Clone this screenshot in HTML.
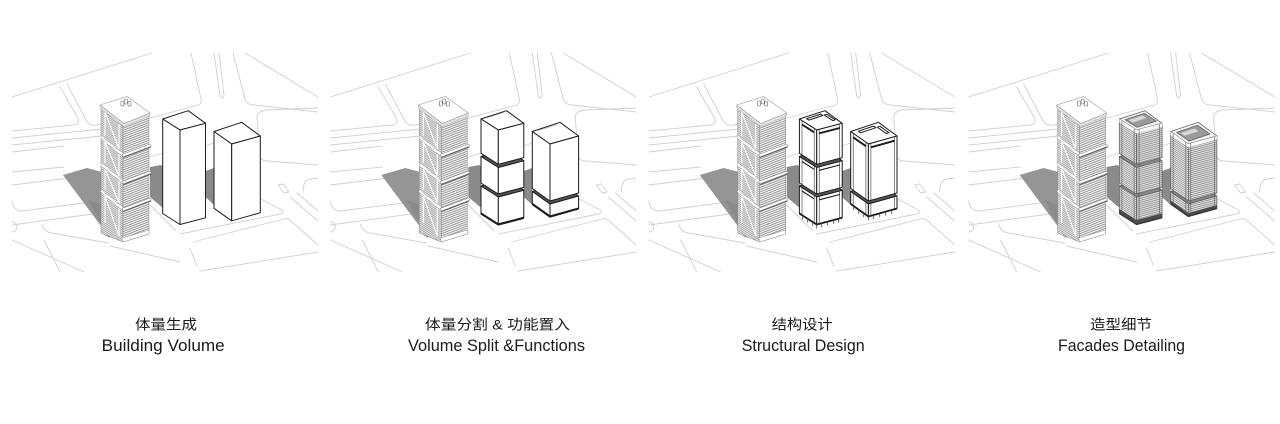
<!DOCTYPE html>
<html><head><meta charset="utf-8">
<style>
html,body{margin:0;padding:0;background:#fff;}
body{width:1280px;height:424px;overflow:hidden;}
svg{display:block;}
.rd{fill:none;stroke:#d0d0d0;stroke-width:0.9;stroke-linecap:round;stroke-linejoin:round;}
.bx polygon{stroke:#1c1c1c;stroke-width:1;stroke-linejoin:round;}
.en{font-family:"Liberation Sans",Arial,sans-serif;font-size:17px;fill:#1a1a1a;}
.cn{font-family:"Liberation Sans","Noto Sans CJK SC",sans-serif;font-size:14px;fill:#1a1a1a;}
</style></head>
<body>
<svg width="1280" height="424" viewBox="0 0 1280 424" xmlns="http://www.w3.org/2000/svg">
<defs>
  <clipPath id="pc" clipPathUnits="userSpaceOnUse"><rect x="12" y="50" width="306" height="222"/></clipPath>
  <pattern id="pL" patternUnits="userSpaceOnUse" width="6" height="2" patternTransform="skewY(32)">
    <rect width="6" height="2" fill="#f0f0f0"/><rect y="1.1" width="6" height="0.8" fill="#8c8c8c"/>
  </pattern>
  <pattern id="pR" patternUnits="userSpaceOnUse" width="6" height="2.2" patternTransform="skewY(-21)">
    <rect width="6" height="2.2" fill="#f4f4f4"/><rect y="1.2" width="6" height="0.8" fill="#7e7e7e"/>
  </pattern>
  <pattern id="fL" patternUnits="userSpaceOnUse" width="6" height="2" patternTransform="skewY(33)">
    <rect width="6" height="2" fill="#efefef"/><rect y="1.1" width="6" height="0.9" fill="#8f8f8f"/>
  </pattern>
  <pattern id="fR" patternUnits="userSpaceOnUse" width="6" height="2" patternTransform="skewY(-15)">
    <rect width="6" height="2" fill="#ebebeb"/><rect y="1.1" width="6" height="0.9" fill="#858585"/>
  </pattern>

  <g id="base">
    <g clip-path="url(#pc)">
      <g class="rd">
        <path d="M12,97 L152,53"/>
        <path d="M12,131 L74,125 Q80,124 78,118 L60,87"/>
        <path d="M67,84 L86,120 Q89,126 96,125 L102,124"/>
        <path d="M12,138 L102,129"/>
        <path d="M12,145 L102,136"/>
        <path d="M12,152 L64,146"/>
        <path d="M12,172 L64,167"/>
        <path d="M12,185 L70,178"/>
        <path d="M12,200 Q13,211 22,211 L100,201"/>
        <path d="M12,225 L100,213"/>
        <path d="M12,222 A5,5 0 0 1 12,232"/>
        <path d="M12,240 L84,272"/>
        <path d="M42,224 Q44,232 52,233 L108,243"/>
        <path d="M44,240 L60,272"/>
        <path d="M191,53 L201,99 Q202,105 195,106 L150,118"/>
        <path d="M214,53 L220,96 Q222,100 224,96 L219,53"/>
        <path d="M233,53 L245,99 Q247,105 254,105 L318,112"/>
        <path d="M245,53 L318,97"/>
        <path d="M318,108 L266,110 Q257,111 257,118 L260,156 Q261,161 268,161 L318,165"/>
        <path d="M278,185 L283,184 L289,192 L284,193 Z"/>
        <path d="M303,192 Q303,180 310,179 L318,178"/>
        <path d="M290,197 L318,221"/>
        <path d="M297,193 L318,211"/>
        <path d="M257,197 L282,210 Q285,213 280,214 L180,234"/>
        <path d="M150,205 L176,231"/>
        <path d="M193,242 L284,219 Q288,218 291,221 L318,245"/>
        <path d="M190,248 L197,266"/>
        <path d="M200,271 L318,252"/>
        <path d="M150,157 L163,153"/>
        <path d="M205,146 L214,143"/>
        <path d="M110,246 L180,262"/>
      </g>
      <!-- shadows -->
      <polygon points="63,175 87,168 102,172 102,233 110,238" fill="#959595"/>
      <polygon points="88,200 102,205 102,233 110,238" fill="#8a8a8a"/>
      <polygon points="150,167 161,165 163,167 163,208 150,197" fill="#8a8a8a"/>
      <polygon points="205.5,171 214,168 214,205 205.5,197" fill="#8a8a8a"/>
    </g>
    <!-- tower -->
    <g>
      <polygon points="101,107 123,125 123,242 101,233" fill="url(#pL)" stroke="#888" stroke-width="0.5"/>
      <polygon points="123,125 149,115 149,234 123,242" fill="url(#pR)" stroke="#888" stroke-width="0.5"/>
      <path d="M105,112 L105,136 M105,112 L119,149 L119,124 M105,142 L105,163 M105,142 L119,176 L119,154 M105,169 L105,190 M105,169 L119,203 L119,181 M105,196 L105,223 M105,196 L119,236 L119,208" fill="none" stroke="#fff" stroke-width="1.1"/>
      <g stroke-width="0.5">
        <line x1="101" y1="137" x2="123" y2="155" stroke="#fff" stroke-width="1.6"/>
        <line x1="101" y1="164" x2="123" y2="182" stroke="#fff" stroke-width="1.6"/>
        <line x1="101" y1="191" x2="123" y2="209" stroke="#fff" stroke-width="1.6"/>
        <polygon points="122,154.5 150,144 151.5,146 123,157" fill="#fff" stroke="#777"/>
        <line x1="123" y1="157.6" x2="151" y2="147" stroke="#555" stroke-width="0.8"/>
        <polygon points="122,181.5 150,171 151.5,173 123,184" fill="#fff" stroke="#777"/>
        <line x1="123" y1="184.6" x2="151" y2="174" stroke="#555" stroke-width="0.8"/>
        <polygon points="122,208.5 150,198 151.5,200 123,211" fill="#fff" stroke="#777"/>
        <line x1="123" y1="211.6" x2="151" y2="201" stroke="#555" stroke-width="0.8"/>
        <polygon points="122,238 149,230 149,234 123,242" fill="#fff" stroke="#888"/>
      </g>
      <polygon points="100,105 124,123.5 150,113 150,116 124,126.5 100,108" fill="#e2e2e2" stroke="#999" stroke-width="0.4"/>
      <polygon points="100,105 127,96.5 150,113 124,123.5" fill="#fff" stroke="#999" stroke-width="0.6"/>
      <g stroke="#666" stroke-width="0.6" fill="#fff">
        <rect x="121" y="101" width="3" height="5" rx="1"/>
        <rect x="124.5" y="99" width="3" height="5" rx="1"/>
        <rect x="128" y="101.5" width="3" height="4.5" rx="1"/>
      </g>
    </g>
  </g>
</defs>

<!-- Panel 1 -->
<use href="#base"/>
<g class="bx">
  <polygon points="162.7,119 188.2,110.7 205.5,123.3 180,130" fill="#fff"/>
  <polygon points="162.7,119 180,130 180,224.5 162.7,213.5" fill="#fff"/>
  <polygon points="180,130 205.5,123.3 205.5,217.8 180,224.5" fill="#fff"/>
  <polygon points="214,131.5 241.7,122.3 260.3,136 231.7,144" fill="#fff"/>
  <polygon points="214,131.5 231.7,144 231.7,220.8 214,208.3" fill="#fff"/>
  <polygon points="231.7,144 260.3,136 260.3,212.8 231.7,220.8" fill="#fff"/>
</g>

<!-- Panel 2 -->
<use href="#base" transform="translate(318.3,0)"/>
<g class="bx" transform="translate(318.3,0)">
  <polygon points="214,191.5 241.7,182.3 260.3,196 231.7,204" fill="#555"/>
  <polygon points="214,191.5 231.7,204 231.7,216.5 214,204" fill="#fff"/>
  <polygon points="231.7,204 260.3,196 260.3,208.5 231.7,216.5" fill="#fff"/>
  <polygon points="214,131.5 241.7,122.3 260.3,136 231.7,144" fill="#fff"/>
  <polygon points="214,131.5 231.7,144 231.7,201 214,188.5" fill="#fff"/>
  <polygon points="231.7,144 260.3,136 260.3,193 231.7,201" fill="#fff"/>
  <polygon points="162.7,186 188.2,177.7 205.5,190.3 180,197" fill="#555"/>
  <polygon points="162.7,186 180,197 180,224.5 162.7,213.5" fill="#fff"/>
  <polygon points="180,197 205.5,190.3 205.5,217.8 180,224.5" fill="#fff"/>
  <polygon points="162.7,156.5 188.2,148.2 205.5,160.8 180,167.5" fill="#555"/>
  <polygon points="162.7,156.5 180,167.5 180,194 162.7,183" fill="#fff"/>
  <polygon points="180,167.5 205.5,160.8 205.5,187.3 180,194" fill="#fff"/>
  <polygon points="162.7,119 188.2,110.7 205.5,123.3 180,130" fill="#fff"/>
  <polygon points="162.7,119 180,130 180,164.3 162.7,153.3" fill="#fff"/>
  <polygon points="180,130 205.5,123.3 205.5,157.6 180,164.3" fill="#fff"/>
  <g fill="none" stroke="#1c1c1c">
    <polyline points="162.7,213.5 180,224.5 205.5,217.8" stroke-width="2.2"/>
    <polyline points="214,204 231.7,216.5 260.3,208.5" stroke-width="2.2"/>
    <polyline points="168,118 186,112.3" stroke="#999" stroke-width="0.6"/>
    <polyline points="220,130.5 239,124.5" stroke="#999" stroke-width="0.6"/>
  </g>
</g>

<!-- Panel 3 -->
<use href="#base" transform="translate(636.7,0)"/>
<g class="bx" transform="translate(636.7,0)">
  <polygon points="214,191.5 241.7,182.3 260.3,196 231.7,204" fill="#555"/>
  <polygon points="214,191.5 231.7,204 231.7,216.5 214,204" fill="#fff"/>
  <polygon points="231.7,204 260.3,196 260.3,208.5 231.7,216.5" fill="#fff"/>
  <polygon points="214,131.5 241.7,122.3 260.3,136 231.7,144" fill="#fff"/>
  <polygon points="214,131.5 231.7,144 231.7,201 214,188.5" fill="#fff"/>
  <polygon points="231.7,144 260.3,136 260.3,193 231.7,201" fill="#fff"/>
  <polygon points="162.7,186 188.2,177.7 205.5,190.3 180,197" fill="#555"/>
  <polygon points="162.7,186 180,197 180,224.5 162.7,213.5" fill="#fff"/>
  <polygon points="180,197 205.5,190.3 205.5,217.8 180,224.5" fill="#fff"/>
  <polygon points="162.7,156.5 188.2,148.2 205.5,160.8 180,167.5" fill="#555"/>
  <polygon points="162.7,156.5 180,167.5 180,194 162.7,183" fill="#fff"/>
  <polygon points="180,167.5 205.5,160.8 205.5,187.3 180,194" fill="#fff"/>
  <polygon points="162.7,119 188.2,110.7 205.5,123.3 180,130" fill="#fff"/>
  <polygon points="162.7,119 180,130 180,164.3 162.7,153.3" fill="#fff"/>
  <polygon points="180,130 205.5,123.3 205.5,157.6 180,164.3" fill="#fff"/>
  <polygon points="169.9,118.7 183.9,114.1 186.1,115.5 172.1,120.1" fill="#fff" stroke-width="0.8"/>
  <polygon points="187.4,115.1 190,114.3 198.6,119.8 196.1,120.6" fill="#fff" stroke-width="0.8"/>
  <polygon points="221.7,131.2 236.9,126.1 239.2,127.7 223.9,132.8" fill="#fff" stroke-width="0.8"/>
  <polygon points="240.6,127.2 243.3,126.3 252.2,132.6 249.5,133.5" fill="#fff" stroke-width="0.8"/>
  <g fill="none" stroke="#333" stroke-width="0.6">
    <path d="M165.3,120.7V155 M177.5,128.4V162.7 M182.5,129.3V163.6 M203,124V158.3"/>
    <path d="M165.3,158.2V184.7 M177.5,165.9V192.4 M182.5,166.8V193.3 M203,161.5V188"/>
    <path d="M165.3,187.7V215.2 M177.5,195.4V222.9 M182.5,196.3V223.8 M203,191V218.5"/>
    <path d="M216.5,133.3V190.3 M229.2,142.2V199.2 M234.2,143.3V200.3 M257.8,136.7V193.7"/>
    <path d="M216.5,193.3V205.8 M229.2,202.2V214.7 M234.2,203.3V215.8 M257.8,196.7V209.2"/>
  </g>
  <g fill="none" stroke="#1c1c1c">
    <path d="M165.3,124.5 L177.5,132.3 M182.5,133.3 L203,128" stroke-width="1.9"/>
    <path d="M165.3,161.5 L177.5,169.3 M182.5,170.3 L203,165" stroke-width="1.1"/>
    <path d="M165.3,191 L177.5,198.8 M182.5,199.8 L203,194.5" stroke-width="1.1"/>
    <path d="M216.5,137.3 L229.2,146.2 M234.2,147.3 L257.8,140.7" stroke-width="1.9"/>
    <polyline points="162.7,213.5 180,224.5 205.5,217.8" stroke-width="1.8"/>
    <polyline points="214,204 231.7,216.5 260.3,208.5" stroke-width="1.8"/>
    <path d="M166,215.6v4 M171,218.8v4 M176,222v4 M180,224.5v4 M185,223.2v4 M191,221.6v4 M197,220v4 M202,218.7v4" stroke="#444" stroke-width="0.8"/>
    <path d="M217,206.1v4 M222,209.6v4 M227,213.1v4 M231.7,216.5v4 M237,215v4 M243,213.3v4 M249,211.7v4 M255,210v4" stroke="#444" stroke-width="0.8"/>
  </g>
</g>

<!-- Panel 4 -->
<use href="#base" transform="translate(956.6,0)"/>
<g transform="translate(956.6,0)">
  <g stroke="#5a5a5a" stroke-width="0.7" stroke-linejoin="round">
    <polygon points="214,191.5 241.7,182.3 260.3,196 231.7,204" fill="#888"/>
    <polygon points="214,191.5 231.7,204 231.7,216.5 214,204" fill="url(#fL)"/>
    <polygon points="231.7,204 260.3,196 260.3,208.5 231.7,216.5" fill="url(#fR)"/>
    <polygon points="214,131.5 241.7,122.3 260.3,136 231.7,144" fill="#f2f2f2"/>
    <polygon points="214,131.5 231.7,144 231.7,201 214,188.5" fill="url(#fL)"/>
    <polygon points="231.7,144 260.3,136 260.3,193 231.7,201" fill="url(#fR)"/>
    <polygon points="162.7,186 188.2,177.7 205.5,190.3 180,197" fill="#888"/>
    <polygon points="162.7,186 180,197 180,224.5 162.7,213.5" fill="url(#fL)"/>
    <polygon points="180,197 205.5,190.3 205.5,217.8 180,224.5" fill="url(#fR)"/>
    <polygon points="162.7,156.5 188.2,148.2 205.5,160.8 180,167.5" fill="#888"/>
    <polygon points="162.7,156.5 180,167.5 180,194 162.7,183" fill="url(#fL)"/>
    <polygon points="180,167.5 205.5,160.8 205.5,187.3 180,194" fill="url(#fR)"/>
    <polygon points="162.7,119 188.2,110.7 205.5,123.3 180,130" fill="#f2f2f2"/>
    <polygon points="162.7,119 180,130 180,164.3 162.7,153.3" fill="url(#fL)"/>
    <polygon points="180,130 205.5,123.3 205.5,157.6 180,164.3" fill="url(#fR)"/>
    <polygon points="168.4,119.65 187.7,113.35 199.8,121.05 180.5,127.35" fill="#9a9a9a"/>
    <polygon points="220,132.3 241.1,125.3 253.4,134 232.3,141" fill="#9a9a9a"/>
  </g>
  <g stroke="none">
    <polygon points="172,120 186,115.5 190,118 176,122.5" fill="#d8d8d8"/>
    <polygon points="224,133 238,128.5 242,131.2 228,135.8" fill="#d8d8d8"/>
    <polygon points="162.7,119 180,130 180,133.5 162.7,122.5" fill="#fafafa"/>
    <polygon points="180,130 205.5,123.3 205.5,126.8 180,133.5" fill="#fafafa"/>
    <polygon points="214,131.5 231.7,144 231.7,147.5 214,135" fill="#fafafa"/>
    <polygon points="231.7,144 260.3,136 260.3,139.5 231.7,147.5" fill="#fafafa"/>
    <polygon points="162.7,209 180,220 180,224.5 162.7,213.5" fill="#4a4a4a"/>
    <polygon points="180,220 205.5,213.3 205.5,217.8 180,224.5" fill="#4a4a4a"/>
    <polygon points="214,200.5 231.7,213 231.7,216.5 214,204" fill="#4a4a4a"/>
    <polygon points="231.7,213 260.3,205 260.3,208.5 231.7,216.5" fill="#4a4a4a"/>
  </g>
  <g fill="none" stroke="#5a5a5a" stroke-width="0.6">
    <path d="M165.3,121V215 M177.5,129V223 M182.5,129V224 M203,124V218"/>
    <path d="M216.5,133V205 M229.2,142V215 M234.2,143V216 M257.8,137V209"/>
    <polyline points="162.7,213.5 180,224.5 205.5,217.8" stroke="#333" stroke-width="1.2"/>
    <polyline points="214,204 231.7,216.5 260.3,208.5" stroke="#333" stroke-width="1.2"/>
  </g>
</g>

<!-- Labels -->
<text class="cn" x="135" y="329.5" textLength="62" lengthAdjust="spacingAndGlyphs">体量生成</text>
<text class="en" x="101.7" y="351" textLength="123" lengthAdjust="spacingAndGlyphs">Building Volume</text>
<text class="cn" x="425" y="329.5" textLength="145" lengthAdjust="spacingAndGlyphs">体量分割 &amp; 功能置入</text>
<text class="en" x="408" y="351" textLength="177" lengthAdjust="spacingAndGlyphs">Volume Split &amp;Functions</text>
<text class="cn" x="771.7" y="329.5" textLength="61" lengthAdjust="spacingAndGlyphs">结构设计</text>
<text class="en" x="741.7" y="351" textLength="123" lengthAdjust="spacingAndGlyphs">Structural Design</text>
<text class="cn" x="1090" y="329.5" textLength="62" lengthAdjust="spacingAndGlyphs">造型细节</text>
<text class="en" x="1058" y="351" textLength="127" lengthAdjust="spacingAndGlyphs">Facades Detailing</text>
</svg>
</body></html>
